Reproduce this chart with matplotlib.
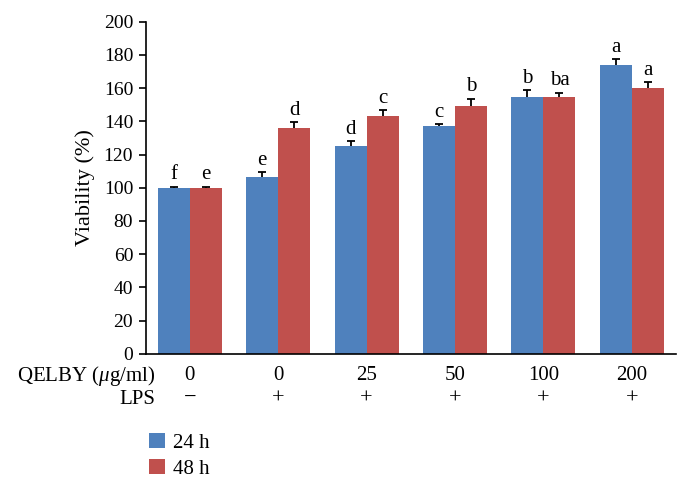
import matplotlib
matplotlib.use('Agg')
import matplotlib.pyplot as plt
import numpy as np

plt.rcParams['font.family'] = ['Liberation Serif', 'DejaVu Serif']
plt.rcParams['mathtext.fontset'] = 'custom'
plt.rcParams['mathtext.rm'] = 'Liberation Serif'
plt.rcParams['mathtext.it'] = 'Liberation Serif:italic'

# data
qelby = ['0', '0', '25', '50', '100', '200']
lps = ['\u2212', '+', '+', '+', '+', '+']
series = ['24 h', '48 h']
vals_24 = [100, 106.3, 125.1, 137.3, 154.8, 173.9]
vals_48 = [100, 136.0, 143.0, 149.4, 154.8, 159.9]
err_24 = [0.5, 3.0, 2.8, 0.8, 3.9, 3.6]
err_48 = [0.5, 3.5, 3.6, 4.2, 2.4, 3.6]
letters_24 = ['f', 'e', 'd', 'c', 'b', 'a']
letters_48 = ['e', 'd', 'c', 'b', 'ba', 'a']
colors = ['#4F81BD', '#C0504D']
FS = 15

fig = plt.figure(figsize=(6.83, 4.88), dpi=100)
ax = fig.add_axes([0.2133, 0.2752, 0.7765, 0.6803])

x = np.arange(len(qelby))
w = 0.362

for vals, errs, letters, col, lab, off in [
        (vals_24, err_24, letters_24, colors[0], series[0], -w / 2),
        (vals_48, err_48, letters_48, colors[1], series[1], w / 2)]:
    ax.bar(x + off, vals, w, color=col, label=lab, zorder=2)
    eb = ax.errorbar(x + off, vals, yerr=[np.zeros(len(errs)), errs], fmt='none',
                     ecolor='black', elinewidth=1.3, capsize=3, capthick=1.3, zorder=3)
    eb[1][0].set_visible(False)  # only the upper cap, as in the reference
    for xi, v, e, t in zip(x + off, vals, errs, letters):
        ax.text(xi, v + e + 1.5, t, ha='center', va='bottom', fontsize=FS)

ax.set_xlim(-0.5, len(qelby) - 0.5)
ax.set_ylim(0, 200)
ax.set_yticks(range(0, 201, 20))
ax.tick_params(axis='y', labelsize=14, direction='out', length=5, width=1.2, pad=4)
ax.tick_params(axis='x', bottom=False, labelbottom=False)
ax.spines['top'].set_visible(False)
ax.spines['right'].set_visible(False)
ax.spines['left'].set_linewidth(1.2)
ax.spines['bottom'].set_linewidth(1.2)
ax.set_ylabel('Viability (%)', fontsize=16, labelpad=6)

# condition rows under the axis
for xi, q, l in zip(x, qelby, lps):
    ax.text(xi, -0.067, q, transform=ax.get_xaxis_transform(), ha='center', va='center', fontsize=FS)
    ax.text(xi, -0.136, l, transform=ax.get_xaxis_transform(), ha='center', va='center', fontsize=16)
fig.text(0.228, 0.229, 'QELBY ($\\mu$g/ml)', ha='right', va='center', fontsize=FS)
fig.text(0.228, 0.182, 'LPS', ha='right', va='center', fontsize=FS)

fig.legend(loc='upper left', bbox_to_anchor=(0.203, 0.134), frameon=False,
           fontsize=FS, handlelength=0.75, handleheight=0.75, handletextpad=0.4,
           labelspacing=0.3, borderpad=0)

fig.savefig('out.png', dpi=100)
